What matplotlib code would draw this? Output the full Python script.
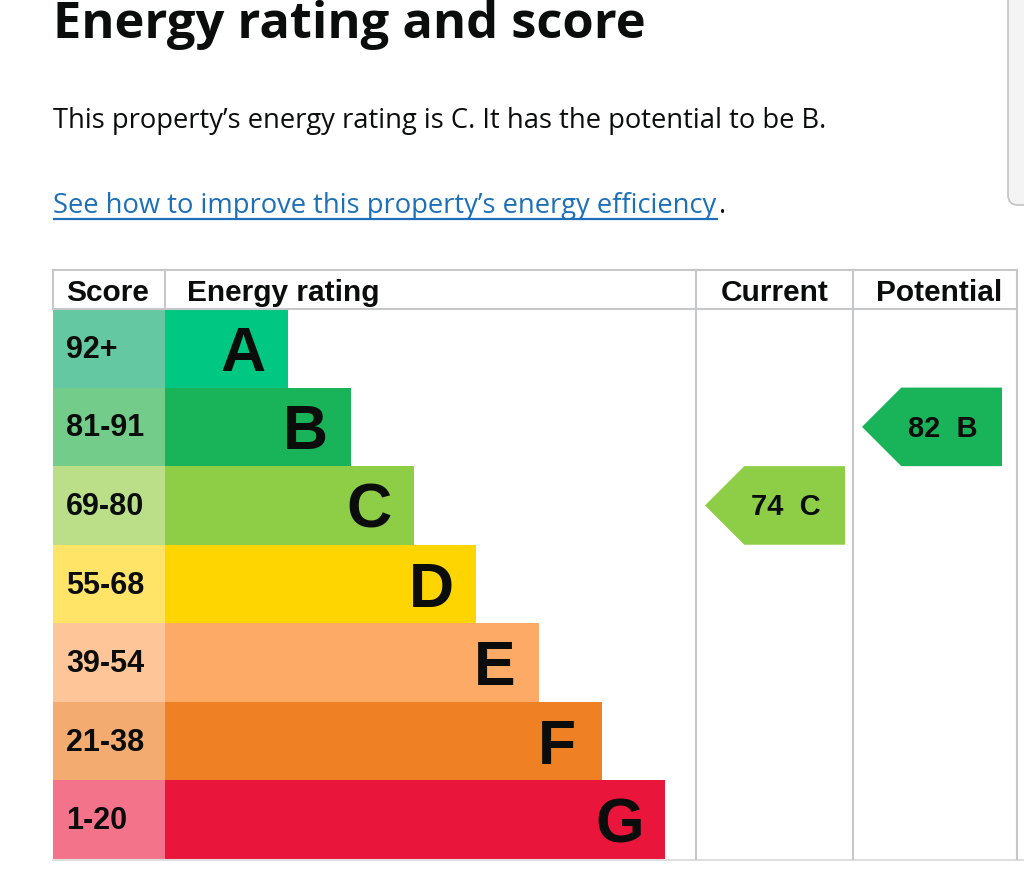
import numpy as np
import matplotlib
matplotlib.use("Agg")
import matplotlib.pyplot as plt
from matplotlib.patches import Rectangle, Polygon, FancyBboxPatch

# EPC bands
bands = ['A', 'B', 'C', 'D', 'E', 'F', 'G']
score_ranges = ['92+', '81-91', '69-80', '55-68', '39-54', '21-38', '1-20']
band_lower = [92, 81, 69, 55, 39, 21, 1]
band_colors = ['#00c781', '#19b459', '#8dce46', '#ffd500', '#fcaa65', '#ef8023', '#e9153b']
score_colors = ['#64c8a2', '#74cc8b', '#badf88', '#ffe468', '#fdc598', '#f4ab6f', '#f3748a']

current_score = 74
potential_score = 82

headers = ['Score', 'Energy rating', 'Current', 'Potential']
title = 'Energy rating and score'
summary = 'This property\u2019s energy rating is C. It has the potential to be B.'
link = 'See how to improve this property\u2019s energy efficiency'

# layout (pixels)
W, H = 1024, 891
LEFT, RIGHT = 53, 1017
HEAD_TOP, HEAD_BOT, TABLE_BOT = 270, 309, 859
SCORE_R, RATING_R, CURRENT_R = 165, 696, 853
BAR0, BAR_STEP = 288, 62.8
GRID = '#c6c7c8'
CHART_FONT = 'Liberation Sans'
PAGE_FONT = 'Open Sans'

fig = plt.figure(figsize=(W / 100, H / 100), dpi=100)
ax = fig.add_axes([0, 0, 1, 1])
ax.set_xlim(0, W)
ax.set_ylim(H, 0)
ax.axis('off')
renderer = fig.canvas.get_renderer()


def fit_text(x, y, s, width, **kw):
    t = ax.text(x, y, s, **kw)
    w = t.get_window_extent(renderer).width
    t.set_fontsize(t.get_fontsize() * width / w)
    return t


# page text
fit_text(53, 38, title, 594, fontsize=36, fontweight='bold', family=PAGE_FONT,
         color='#0b0c0c', va='baseline')
fit_text(53, 128, summary, 775, fontsize=18, family=PAGE_FONT,
         color='#0b0c0c', va='baseline')
lt = fit_text(53, 213, link, 665, fontsize=18, family=PAGE_FONT,
              color='#1d70b8', va='baseline')
ax.text(719, 213, '.', fontsize=lt.get_fontsize(), family=PAGE_FONT,
        color='#0b0c0c', va='baseline')
ax.plot([53, 718], [219, 219], color='#1d70b8', lw=1.6, solid_capstyle='butt')

# grey panel at top right
ax.add_patch(FancyBboxPatch((1016, -20), 40, 221, boxstyle='round,pad=0,rounding_size=10',
                            fc='#e9e9e9', ec='none', alpha=0.6, zorder=1))
ax.add_patch(FancyBboxPatch((1008, -20), 40, 225, boxstyle='round,pad=0,rounding_size=10',
                            fc='#f4f4f4', ec='#c2c2c2', lw=1.2, zorder=2))

# bands
n = len(bands)
row_h = (TABLE_BOT - HEAD_BOT) / n
for i in range(n):
    y0 = HEAD_BOT + i * row_h
    cy = y0 + row_h / 2
    bar_end = BAR0 + i * BAR_STEP
    ax.add_patch(Rectangle((LEFT, y0), SCORE_R - LEFT, row_h, fc=score_colors[i], ec='none'))
    ax.add_patch(Rectangle((SCORE_R, y0), bar_end - SCORE_R, row_h, fc=band_colors[i], ec='none'))
    ax.text(66, cy + 9.5, score_ranges[i], fontsize=22, fontweight='bold', family=CHART_FONT,
            color='#0b0c0c', va='baseline', ha='left')
    ax.text(bar_end - 45, cy + 22.5, bands[i], fontsize=45, fontweight='bold', family=CHART_FONT,
            color='#0b0c0c', va='baseline', ha='center')

# grid lines
ax.plot([LEFT, RIGHT], [HEAD_TOP, HEAD_TOP], color=GRID, lw=1.5)
ax.plot([LEFT, RIGHT], [HEAD_BOT, HEAD_BOT], color=GRID, lw=1.5)
ax.plot([LEFT, W], [TABLE_BOT + 1, TABLE_BOT + 1], color='#dedede', lw=1.5)
ax.plot([LEFT, LEFT], [HEAD_TOP, HEAD_BOT], color=GRID, lw=1.5)
ax.plot([SCORE_R, SCORE_R], [HEAD_TOP, HEAD_BOT], color=GRID, lw=1.5)
for xv in [RATING_R, CURRENT_R, RIGHT]:
    ax.plot([xv, xv], [HEAD_TOP, TABLE_BOT], color=GRID, lw=1.5)

# headers
hy = 301
ax.text(66, hy, headers[0], fontsize=21.5, fontweight='bold', family=CHART_FONT,
        color='#0b0c0c', va='baseline', ha='left')
ax.text(187, hy, headers[1], fontsize=21.5, fontweight='bold', family=CHART_FONT,
        color='#0b0c0c', va='baseline', ha='left')
ax.text(775, hy, headers[2], fontsize=21.5, fontweight='bold', family=CHART_FONT,
        color='#0b0c0c', va='baseline', ha='center')
ax.text(939, hy, headers[3], fontsize=21.5, fontweight='bold', family=CHART_FONT,
        color='#0b0c0c', va='baseline', ha='center')


def band_index(score):
    for i, lo in enumerate(band_lower):
        if score >= lo:
            return i
    return n - 1


def arrow(col_left, score):
    i = band_index(score)
    y0 = HEAD_BOT + i * row_h
    x0 = col_left + 9
    x1 = x0 + 140
    tip = row_h / 2
    pts = [(x0, y0 + row_h / 2), (x0 + tip, y0), (x1, y0), (x1, y0 + row_h), (x0 + tip, y0 + row_h)]
    ax.add_patch(Polygon(pts, closed=True, fc=band_colors[i], ec='none'))
    ax.text(x0 + 81, y0 + row_h / 2 + 10, f'{score}  {bands[i]}', fontsize=21, fontweight='bold',
            family=CHART_FONT, color='#0b0c0c', va='baseline', ha='center')


arrow(RATING_R, current_score)
arrow(CURRENT_R, potential_score)

fig.savefig('out.png', dpi=100)
